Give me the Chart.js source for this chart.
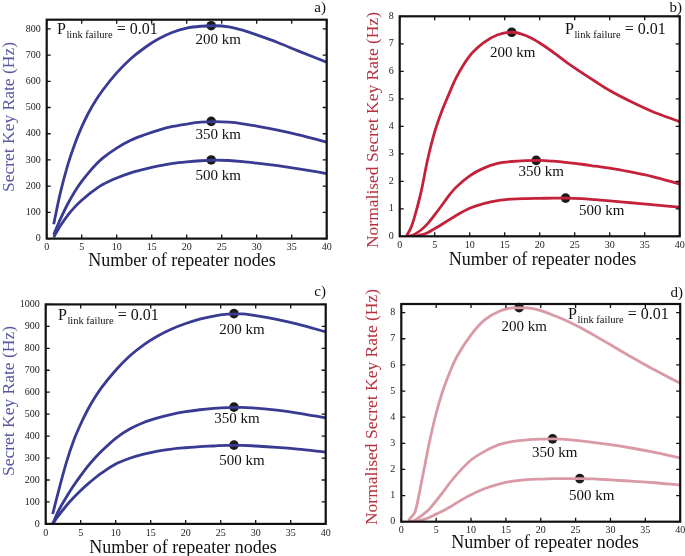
<!DOCTYPE html>
<html>
<head>
<meta charset="utf-8">
<script src="https://cdn.jsdelivr.net/npm/chart.js@4.4.1/dist/chart.umd.min.js"></script>
<style>
  html, body { margin: 0; padding: 0; background: #fff; }
  #wrap { position: relative; width: 685px; height: 556px; }
  #wrap canvas { position: absolute; left: 0; top: 0; }
</style>
</head>
<body>
<div id="wrap">
  <canvas id="chartA" width="685" height="556"></canvas>
  <canvas id="chartB" width="685" height="556"></canvas>
  <canvas id="chartC" width="685" height="556"></canvas>
  <canvas id="chartD" width="685" height="556"></canvas>
</div>
<script>
// number of repeater nodes where the curves were read
const nodes = [1, 1.5, 2, 3, 4, 5, 6, 7, 8, 10, 12, 14, 16, 18, 20, 22, 24, 26, 28, 30, 33, 36, 40];
const distances = ["200 km", "350 km", "500 km"];

// a) secret key rate (Hz)
const rateA200 = [55, 120, 180, 280, 360, 426, 481, 527, 566, 632, 686, 728, 762, 787, 803, 810, 812, 808, 795, 777, 748, 715, 673];
const rateA350 = [15, 47, 77, 132, 179, 218, 252, 282, 307, 345, 375, 396, 414, 428, 437, 444, 446, 444, 438, 429, 414, 396, 368];
const rateA500 = [5, 29, 51, 89, 120, 146, 169, 189, 206, 231, 251, 265, 277, 287, 293, 297, 299, 298, 294, 288, 278, 266, 248];
const peakNodesA = [23.5, 23.5, 23.5];
const peakRatesA = [812, 447, 300];

// b) normalised secret key rate (Hz)
const rateB200 = [0.03, 0.25, 0.6, 1.55, 2.8, 3.8, 4.54, 5.15, 5.73, 6.56, 7.04, 7.33, 7.42, 7.3, 7.03, 6.68, 6.3, 5.95, 5.62, 5.3, 4.9, 4.55, 4.17];
const rateB350 = [0, 0.02, 0.06, 0.22, 0.46, 0.78, 1.12, 1.47, 1.77, 2.2, 2.48, 2.65, 2.72, 2.75, 2.76, 2.73, 2.68, 2.62, 2.55, 2.48, 2.34, 2.18, 1.9];
const rateB500 = [0, 0, 0, 0.05, 0.13, 0.28, 0.43, 0.59, 0.75, 1.02, 1.19, 1.3, 1.35, 1.37, 1.38, 1.39, 1.39, 1.37, 1.33, 1.29, 1.22, 1.15, 1.06];
const peakNodesB = [16, 19.5, 23.7];
const peakRatesB = [7.42, 2.76, 1.39];

// c) secret key rate (Hz)
const rateC200 = [45, 108, 170, 285, 380, 455, 520, 575, 622, 700, 765, 816, 856, 888, 913, 933, 947, 956, 957, 949, 932, 910, 875];
const rateC350 = [0, 38, 70, 125, 175, 220, 262, 299, 332, 390, 432, 462, 483, 499, 511, 520, 526, 530, 531, 527, 518, 505, 483];
const rateC500 = [0, 24, 45, 85, 120, 152, 181, 208, 232, 273, 299, 318, 332, 341, 347, 352, 355, 358, 358, 355, 349, 341, 327];
const peakNodesC = [26.9, 26.9, 26.9];
const peakRatesC = [958, 532, 359];

// d) normalised secret key rate (Hz)
const rateD200 = [0.05, 0.2, 0.4, 1.65, 3.0, 4.15, 5.05, 5.75, 6.33, 7.15, 7.73, 8.04, 8.18, 8.18, 8.08, 7.88, 7.65, 7.38, 7.08, 6.77, 6.3, 5.85, 5.3];
const rateD350 = [0, 0.02, 0.07, 0.25, 0.48, 0.8, 1.14, 1.5, 1.82, 2.36, 2.7, 2.95, 3.07, 3.13, 3.16, 3.17, 3.14, 3.08, 3.02, 2.95, 2.82, 2.67, 2.44];
const rateD500 = [0, 0, 0.01, 0.07, 0.16, 0.29, 0.42, 0.56, 0.73, 1.03, 1.27, 1.44, 1.55, 1.61, 1.63, 1.645, 1.65, 1.65, 1.63, 1.6, 1.55, 1.5, 1.4];
const peakNodesD = [16.9, 21.7, 25.6];
const peakRatesD = [8.19, 3.17, 1.65];

const SERIF = "'Liberation Serif', 'DejaVu Serif', serif";
const BLUE = "#393b93", BLUE_TITLE = "#5858a4";
const RED = "#c4223b", RED_TITLE = "#b5323f";
const PINK = "#d99aa5";

// frame, inward ticks and all the text around each panel
const panelDecor = {
    id: "panelDecor",
    afterDraw(chart, args, o) {
        const ctx = chart.ctx;
        const a = chart.chartArea;
        const xs = chart.scales.x, ys = chart.scales.y;
        ctx.save();

        ctx.strokeStyle = "#111";
        ctx.lineWidth = 1.3;
        ctx.beginPath();
        xs.ticks.forEach(t => {
            const px = xs.getPixelForValue(t.value);
            ctx.moveTo(px, a.bottom); ctx.lineTo(px, a.bottom - 4);
            ctx.moveTo(px, a.top); ctx.lineTo(px, a.top + 4);
        });
        ys.ticks.forEach(t => {
            const py = ys.getPixelForValue(t.value);
            ctx.moveTo(a.left, py); ctx.lineTo(a.left + 4, py);
            ctx.moveTo(a.right, py); ctx.lineTo(a.right - 4, py);
        });
        ctx.stroke();
        ctx.lineWidth = 2.2;
        ctx.strokeRect(a.left, a.top, a.right - a.left, a.bottom - a.top);

        // y title
        ctx.save();
        ctx.fillStyle = o.titleColor;
        ctx.font = "17.5px " + SERIF;
        ctx.textAlign = "center";
        ctx.textBaseline = "middle";
        ctx.translate(o.yTitle[0], o.yTitle[1]);
        ctx.rotate(-Math.PI / 2);
        ctx.fillText(o.yTitleText, 0, 0);
        ctx.restore();

        // x title
        ctx.fillStyle = "#111";
        ctx.font = "18px " + SERIF;
        ctx.textAlign = "center";
        ctx.textBaseline = "middle";
        ctx.fillText("Number of repeater nodes", o.xTitle[0], o.xTitle[1]);

        // panel letter
        ctx.font = "15px " + SERIF;
        ctx.textAlign = "right";
        ctx.textBaseline = "alphabetic";
        ctx.fillText(o.letter, o.letterPos[0], o.letterPos[1]);

        // P_link failure = 0.01
        ctx.textAlign = "left";
        let px = o.pPos[0];
        const base = o.pPos[1];
        ctx.font = "16px " + SERIF;
        ctx.fillText("P", px, base);
        px += ctx.measureText("P").width;
        ctx.font = "10.5px " + SERIF;
        ctx.fillText("link failure", px + 0.5, base + 3.5);
        px += ctx.measureText("link failure").width + 0.5;
        ctx.font = "16px " + SERIF;
        ctx.fillText(" = 0.01", px, base);

        // distance labels next to the maxima
        ctx.font = "15px " + SERIF;
        ctx.textAlign = "center";
        ctx.textBaseline = "middle";
        o.peakX.forEach((x, i) => {
            const mx = xs.getPixelForValue(x);
            const my = ys.getPixelForValue(o.peakY[i]);
            ctx.fillText(distances[i], mx + o.labelOffsets[i][0], my + o.labelOffsets[i][1]);
        });
        ctx.restore();
    }
};

function series(values, color) {
    return {
        type: "line",
        data: nodes.map((n, i) => ({ x: n, y: values[i] })),
        borderColor: color,
        borderWidth: 2.8,
        pointRadius: 0,
        fill: false,
        cubicInterpolationMode: "monotone"
    };
}

function makePanel(id, p) {
    const peaks = {
        type: "scatter",
        data: p.peakX.map((x, i) => ({ x: x, y: p.peakY[i] })),
        pointRadius: 4.8,
        pointBackgroundColor: "#1b1b1b",
        pointBorderWidth: 0,
        showLine: false,
        clip: false
    };
    new Chart(document.getElementById(id).getContext("2d"), {
        type: "line",
        data: {
            datasets: [
                series(p.values[0], p.color),
                series(p.values[1], p.color),
                series(p.values[2], p.color),
                peaks
            ]
        },
        options: {
            responsive: false,
            animation: false,
            events: [],
            layout: {
                padding: {
                    left: p.area[0] - 45,
                    top: p.area[1],
                    right: 685 - p.area[2],
                    bottom: 556 - p.area[3] - 30
                }
            },
            plugins: {
                legend: { display: false },
                tooltip: { enabled: false },
                panelDecor: {
                    titleColor: p.titleColor,
                    yTitleText: p.yTitleText,
                    yTitle: p.yTitle,
                    xTitle: p.xTitle,
                    letter: p.letter,
                    letterPos: p.letterPos,
                    pPos: p.pPos,
                    peakX: p.peakX,
                    peakY: p.peakY,
                    labelOffsets: p.labelOffsets
                }
            },
            scales: {
                x: {
                    type: "linear",
                    min: 0,
                    max: 40,
                    grid: { display: false, drawTicks: false },
                    border: { display: false },
                    ticks: {
                        stepSize: 5,
                        includeBounds: false,
                        padding: 3,
                        maxRotation: 0,
                        color: "#222",
                        font: { family: SERIF, size: 10 },
                        callback: v => String(v)
                    },
                    afterFit: s => { s.height = 30; s.paddingLeft = 0; s.paddingRight = 0; }
                },
                y: {
                    type: "linear",
                    min: 0,
                    max: p.yMax,
                    grid: { display: false, drawTicks: false },
                    border: { display: false },
                    ticks: {
                        stepSize: p.yStep,
                        includeBounds: false,
                        padding: 6,
                        color: "#222",
                        font: { family: SERIF, size: 10 },
                        callback: v => String(v)
                    },
                    afterFit: s => { s.width = 45; s.paddingTop = 0; s.paddingBottom = 0; }
                }
            }
        },
        plugins: [panelDecor]
    });
}

document.addEventListener("DOMContentLoaded", function () {
    makePanel("chartA", {
        area: [46.7, 19.7, 326.7, 238.6],
        yMax: 835, yStep: 100,
        color: BLUE, titleColor: BLUE_TITLE,
        yTitleText: "Secret Key Rate (Hz)", yTitle: [9, 117], xTitle: [182, 261.5],
        letter: "a)", letterPos: [326, 12], pPos: [57, 34],
        values: [rateA200, rateA350, rateA500],
        peakX: peakNodesA, peakY: peakRatesA,
        labelOffsets: [[7, 14], [7, 14], [7, 16]]
    });
    makePanel("chartB", {
        area: [399.7, 16.3, 679.7, 236.3],
        yMax: 8, yStep: 1,
        color: RED, titleColor: RED_TITLE,
        yTitleText: "Normalised Secret Key Rate (Hz)", yTitle: [373, 130], xTitle: [542.5, 260],
        letter: "b)", letterPos: [682, 12], pPos: [565, 34],
        values: [rateB200, rateB350, rateB500],
        peakX: peakNodesB, peakY: peakRatesB,
        labelOffsets: [[1, 21], [5, 12], [36, 13]]
    });
    makePanel("chartC", {
        area: [45.7, 304.4, 325.7, 523.9],
        yMax: 1000, yStep: 100,
        color: BLUE, titleColor: BLUE_TITLE,
        yTitleText: "Secret Key Rate (Hz)", yTitle: [9, 401], xTitle: [183, 548],
        letter: "c)", letterPos: [326, 296], pPos: [58, 320],
        values: [rateC200, rateC350, rateC500],
        peakX: peakNodesC, peakY: peakRatesC,
        labelOffsets: [[8, 16], [3, 12], [8, 16]]
    });
    makePanel("chartD", {
        area: [401.3, 304, 681.3, 521.7],
        yMax: 8.33, yStep: 1,
        color: PINK, titleColor: RED_TITLE,
        yTitleText: "Normalised Secret Key Rate (Hz)", yTitle: [372, 407], xTitle: [545, 543],
        letter: "d)", letterPos: [683, 297], pPos: [568, 319],
        values: [rateD200, rateD350, rateD500],
        peakX: peakNodesD, peakY: peakRatesD,
        labelOffsets: [[5, 19], [2, 14], [12, 17]]
    });
});
</script>
</body>
</html>
